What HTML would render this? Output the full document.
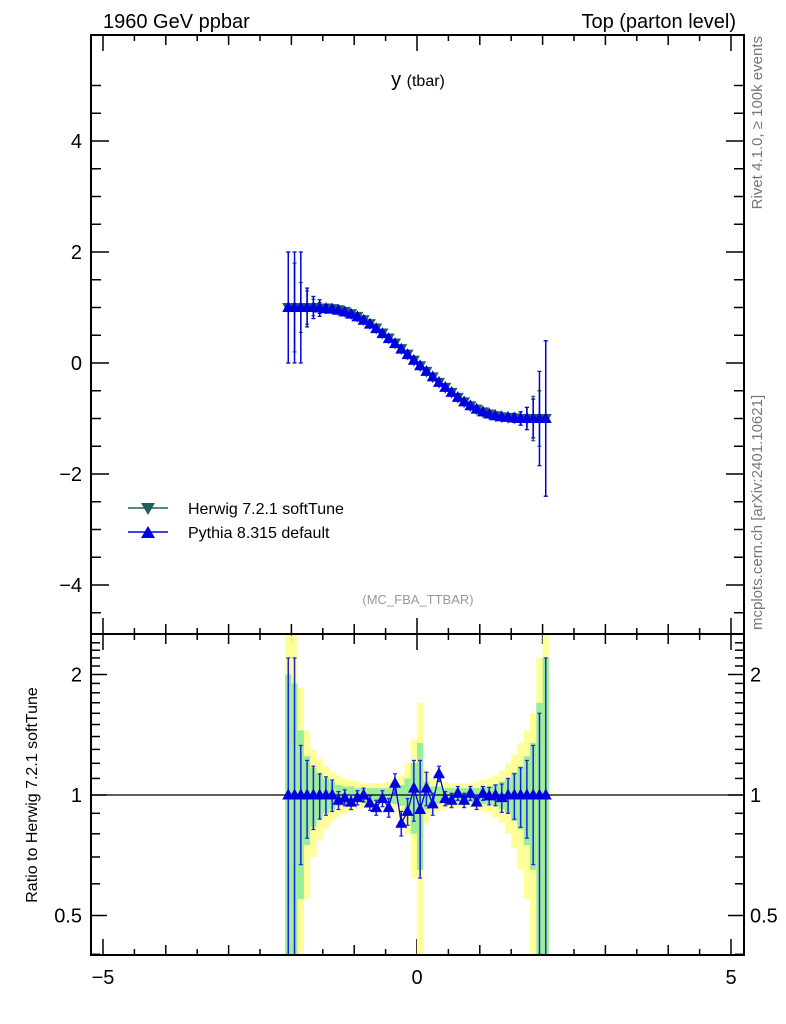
<!DOCTYPE html>
<html><head><meta charset="utf-8">
<style>
html,body{margin:0;padding:0;background:#fff;overflow:hidden;width:786px;height:1024px;}
svg{display:block;font-family:"Liberation Sans",sans-serif;}
</style></head>
<body>
<svg id="chart" width="786" height="1024" viewBox="0 0 786 1024" xmlns="http://www.w3.org/2000/svg">
  <text x="103" y="28" font-size="20">1960 GeV ppbar</text>
  <text x="736" y="28" font-size="20" text-anchor="end">Top (parton level)</text>
  <text x="418" y="86" font-size="20" text-anchor="middle">y <tspan font-size="16">(tbar)</tspan></text>
  <text x="418" y="604" font-size="13" fill="#999" text-anchor="middle">(MC_FBA_TTBAR)</text>
  <text transform="translate(762,36) rotate(-90)" font-size="15" fill="#777" text-anchor="end">Rivet 4.1.0, ≥ 100k events</text>
  <text transform="translate(762,630) rotate(-90)" font-size="15" fill="#777">mcplots.cern.ch [arXiv:2401.10621]</text>
  <text transform="translate(37,795) rotate(-90)" font-size="16" text-anchor="middle">Ratio to Herwig 7.2.1 softTune</text>
  <g id="main"></g>
  <g id="ratio"></g>
  <g>
    <line x1="128" y1="508" x2="168" y2="508" stroke="#1f5f5f" stroke-width="1.5"/>
    <path d="M141,503 L155,503 L148,515 Z" fill="#1f5f5f"/>
    <text x="188" y="514" font-size="16">Herwig 7.2.1 softTune</text>
    <line x1="128" y1="532" x2="168" y2="532" stroke="#0000e0" stroke-width="1.5"/>
    <path d="M148,526 L155,538 L141,538 Z" fill="#0000e0"/>
    <text x="188" y="538" font-size="16">Pythia 8.315 default</text>
  </g>
</svg>
<script>
const binCenters = [-2.05,-1.95,-1.85,-1.75,-1.65,-1.55,-1.45,-1.35,-1.25,-1.15,-1.05,-0.95,-0.85,-0.75,-0.65,-0.55,-0.45,-0.35,-0.25,-0.15,-0.05,0.05,0.15,0.25,0.35,0.45,0.55,0.65,0.75,0.85,0.95,1.05,1.15,1.25,1.35,1.45,1.55,1.65,1.75,1.85,1.95,2.05];
const pythiaVals = [1,1,1,1,1,0.99,0.98,0.97,0.95,0.92,0.88,0.83,0.77,0.70,0.62,0.53,0.44,0.35,0.25,0.15,0.05,-0.05,-0.15,-0.25,-0.35,-0.44,-0.53,-0.62,-0.70,-0.77,-0.83,-0.88,-0.92,-0.95,-0.97,-0.98,-0.99,-1,-1,-1,-1,-1];
const herwigVals = [1,1,1,1,1,0.99,0.99,0.98,0.96,0.93,0.89,0.84,0.78,0.71,0.63,0.54,0.45,0.36,0.26,0.16,0.05,-0.05,-0.15,-0.25,-0.35,-0.44,-0.53,-0.62,-0.70,-0.77,-0.83,-0.88,-0.92,-0.95,-0.97,-0.98,-0.99,-1,-1,-1,-1,-1];
const pythiaErr = [1,1,1,0.35,0.2,0.15,0.08,0.05,0.03,0.02,0.02,0.02,0.02,0.02,0.02,0.02,0.02,0.02,0.02,0.02,0.02,0.02,0.02,0.02,0.02,0.02,0.02,0.02,0.02,0.02,0.02,0.02,0.02,0.02,0.03,0.05,0.08,0.12,0.2,0.35,0.85,1.4];
const herwigErr = [1,0.8,0.45,0.3,0.15,0.1,0.06,0.04,0.03,0.02,0.02,0.02,0.02,0.02,0.02,0.02,0.02,0.02,0.02,0.02,0.02,0.02,0.02,0.02,0.02,0.02,0.02,0.02,0.02,0.02,0.02,0.02,0.02,0.02,0.03,0.05,0.08,0.12,0.2,0.4,0.5,1.4];
const ratioVals = [1,1,1,1,1,1,1,1,0.97,0.985,0.96,0.985,1.0,0.955,0.93,0.98,0.93,1.07,0.85,0.91,1.04,0.92,1.04,0.95,1.13,0.98,0.97,1.01,0.97,1.01,0.96,1.01,0.995,1.0,0.985,1,1,1,1,1,1,1];
const ratioErr = [1.2,1.2,0.33,0.22,0.18,0.13,0.11,0.09,0.05,0.045,0.04,0.04,0.04,0.04,0.04,0.045,0.05,0.06,0.06,0.07,0.18,0.3,0.1,0.06,0.05,0.04,0.04,0.04,0.04,0.04,0.04,0.04,0.05,0.06,0.08,0.1,0.13,0.17,0.22,0.33,0.6,1.2];
const yellowBand = [1.6,1.5,0.85,0.45,0.3,0.23,0.18,0.14,0.12,0.1,0.09,0.08,0.07,0.07,0.07,0.07,0.08,0.09,0.12,0.2,0.38,0.7,0.15,0.1,0.09,0.08,0.07,0.07,0.07,0.07,0.08,0.09,0.1,0.12,0.15,0.2,0.26,0.35,0.45,0.6,1.2,1.6];
const greenBand = [1.0,0.9,0.45,0.25,0.17,0.13,0.1,0.08,0.06,0.05,0.05,0.04,0.04,0.04,0.04,0.04,0.04,0.05,0.06,0.1,0.2,0.35,0.08,0.05,0.05,0.04,0.04,0.04,0.04,0.04,0.04,0.05,0.05,0.06,0.08,0.1,0.14,0.18,0.25,0.35,0.7,1.2];
const xTickLabels = [-5,0,5];
const mainYTickLabels = [-4,-2,0,2,4];
const ratioTickLabels = [0.5,1,2];

const NS='http://www.w3.org/2000/svg';
const L=91,R=744,MT=35,MB=634,RB=955;
const sx=v=>417+v*62.8;
const syM=v=>363-v*55.5;
const syR=v=>795-Math.log2(v)*120.5;
const cl=y=>Math.min(RB,Math.max(MB,y));
const binW=0.1;
function mk(parent,tag,attrs){const e=document.createElementNS(NS,tag);for(const k in attrs)e.setAttribute(k,attrs[k]);parent.appendChild(e);return e;}
const main=document.getElementById('main'),ratio=document.getElementById('ratio');

const rg=mk(ratio,'g',{});
binCenters.forEach((c,i)=>{
  const x0=sx(c-binW/2),w=sx(c+binW/2)-x0;
  let lo=Math.max(1-yellowBand[i],0.05),hi=1+yellowBand[i];
  let t=cl(syR(hi)),b=cl(syR(lo));
  const y=mk(rg,'rect',{x:x0,y:t,width:w,height:b-t,fill:'#ffff99'});
  
  
  lo=Math.max(1-greenBand[i],0.05);hi=1+greenBand[i];
  t=cl(syR(hi));b=cl(syR(lo));
  const g=mk(rg,'rect',{x:x0,y:t,width:w,height:b-t,fill:'#99ee99'});
  
  
});
mk(rg,'line',{x1:L,y1:syR(1),x2:R,y2:syR(1),stroke:'#000','stroke-width':1.2});
let pts=[];
binCenters.forEach((c,i)=>{
  const x=sx(c),v=ratioVals[i],e=ratioErr[i];
  const r1=syR(v+e),r2=syR(Math.max(v-e,0.05));
  const y1=cl(r1),y2=cl(r2);
  mk(rg,'line',{x1:x,y1:y1,x2:x,y2:y2,stroke:'#2020e0','stroke-width':1.5});
  if(r1>MB) mk(rg,'line',{x1:x-2,y1:y1,x2:x+2,y2:y1,stroke:'#2020e0','stroke-width':1.2});
  if(r2<RB) mk(rg,'line',{x1:x-2,y1:y2,x2:x+2,y2:y2,stroke:'#2020e0','stroke-width':1.2});
  pts.push(x+','+syR(v));
});
mk(rg,'polyline',{points:pts.join(' '),fill:'none',stroke:'#0000e0','stroke-width':1.3});
binCenters.forEach((c,i)=>{
  const x=sx(c),y=syR(ratioVals[i]);
  const p=mk(rg,'path',{d:`M${x},${y-6.5} L${x+6},${y+4.5} L${x-6},${y+4.5} Z`,fill:'#0000e0'});
  
  
});

function series(vals,errs,color,down,name){
  let pp=[];
  binCenters.forEach((c,i)=>{
    const x=sx(c),y1=syM(vals[i]+errs[i]),y2=syM(vals[i]-errs[i]);
    mk(main,'line',{x1:x,y1:y1,x2:x,y2:y2,stroke:color,'stroke-width':1.5});
    mk(main,'line',{x1:x-2,y1:y1,x2:x+2,y2:y1,stroke:color,'stroke-width':1.2});
    mk(main,'line',{x1:x-2,y1:y2,x2:x+2,y2:y2,stroke:color,'stroke-width':1.2});
    pp.push(x+','+syM(vals[i]));
  });
  mk(main,'polyline',{points:pp.join(' '),fill:'none',stroke:color,'stroke-width':1.3});
  binCenters.forEach((c,i)=>{
    const x=sx(c),y=syM(vals[i]);
    const d=down?`M${x-6},${y-4.5} L${x+6},${y-4.5} L${x},${y+6.5} Z`:`M${x},${y-6.5} L${x+6},${y+4.5} L${x-6},${y+4.5} Z`;
    const p=mk(main,'path',{d:d,fill:color});
    
    
  });
}
series(herwigVals,herwigErr,'#1f5f5f',true,'herwig-point');
series(pythiaVals,pythiaErr,'#0000e0',false,'pythia-point');

const ax=mk(main,'g',{});
mk(ax,'rect',{x:L,y:MT,width:R-L,height:MB-MT,fill:'none',stroke:'#000','stroke-width':2});
mk(ratio,'rect',{x:L,y:MB,width:R-L,height:RB-MB,fill:'none',stroke:'#000','stroke-width':2});
for(let v=-5;v<=5.001;v+=0.5){
  const x=sx(v),maj=Math.abs(v-Math.round(v))<1e-6&&Math.round(v)%5===0;
  const len=maj?16:(Math.abs(v-Math.round(v))<1e-6?10:6);
  [MT,MB].forEach(t=>mk(ax,'line',{x1:x,y1:t,x2:x,y2:t+len,stroke:'#000','stroke-width':1.5}));
  [MB,RB].forEach(b=>mk(ax,'line',{x1:x,y1:b,x2:x,y2:b-len,stroke:'#000','stroke-width':1.5}));
}
xTickLabels.forEach(v=>{
  const t=mk(ax,'text',{x:sx(v),y:984,'font-size':20,'text-anchor':'middle'});
  t.textContent=v<0?'\u2212'+Math.abs(v):String(v);
  
  
});
for(let v=-4.5;v<=5.001;v+=0.5){
  const y=syM(v);if(y<MT||y>MB)continue;
  const len=Math.abs(v%2)<1e-6?18:10;
  mk(ax,'line',{x1:L,y1:y,x2:L+len,y2:y,stroke:'#000','stroke-width':1.5});
  mk(ax,'line',{x1:R,y1:y,x2:R-len,y2:y,stroke:'#000','stroke-width':1.5});
}
mainYTickLabels.forEach(v=>{
  const t=mk(ax,'text',{x:82,y:syM(v)+7,'font-size':20,'text-anchor':'end'});
  t.textContent=v<0?'\u2212'+Math.abs(v):String(v);
  
  
});
for(let v=0.4;v<=2.5;v+=0.1){
  const r=Math.round(v*10)/10,y=syR(r);if(y<MB||y>RB)continue;
  const len=(r===0.5||r===1||r===2)?16:9;
  mk(ratio,'line',{x1:L,y1:y,x2:L+len,y2:y,stroke:'#000','stroke-width':1.5});
  mk(ratio,'line',{x1:R,y1:y,x2:R-len,y2:y,stroke:'#000','stroke-width':1.5});
}
ratioTickLabels.forEach(v=>{
  [[82,'end'],[750,'start']].forEach(([x,a])=>{
    const t=mk(ratio,'text',{x:x,y:syR(v)+7,'font-size':20,'text-anchor':a});
    t.textContent=String(v);
    
    
  });
});
</script>
</body></html>
